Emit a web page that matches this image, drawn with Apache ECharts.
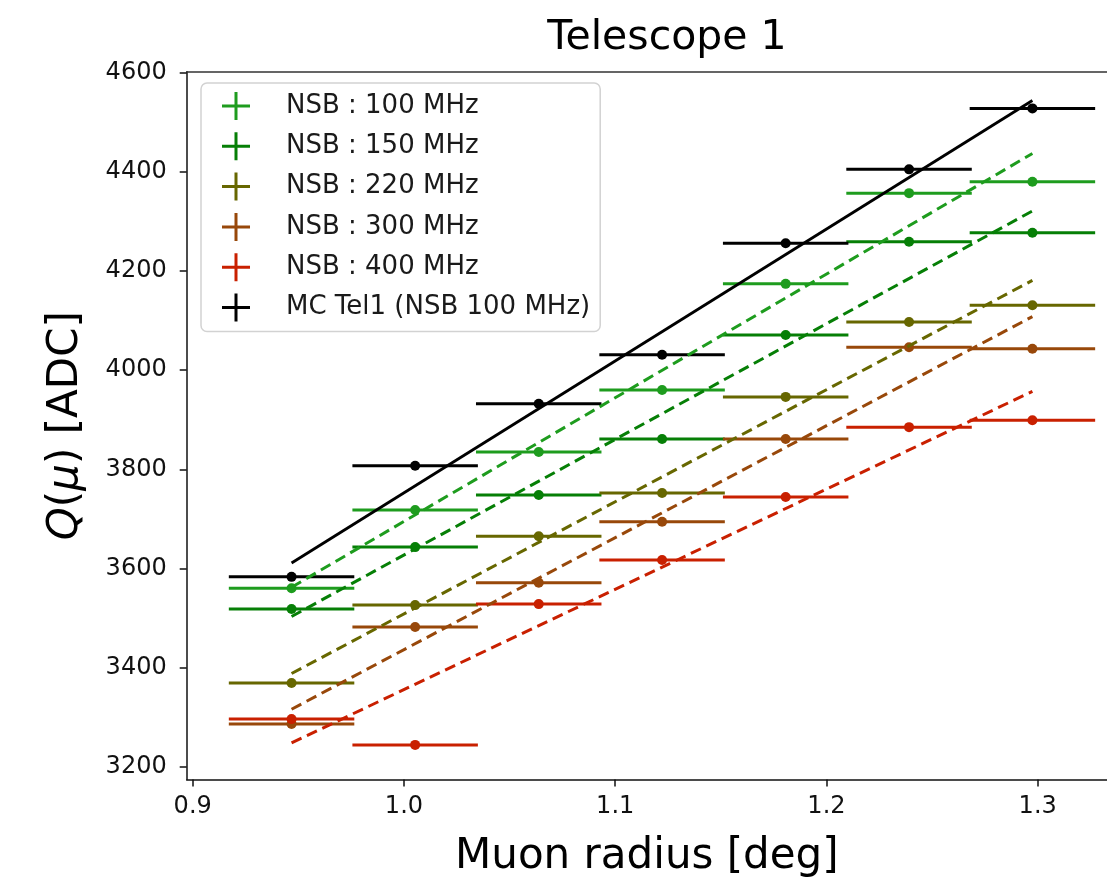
<!DOCTYPE html>
<html>
<head>
<meta charset="utf-8">
<script src="https://cdn.jsdelivr.net/npm/echarts@6/dist/echarts.min.js"></script>
<style>
  html, body { margin: 0; padding: 0; background: #ffffff; }
  #chart { width: 1107px; height: 879px; }
</style>
</head>
<body>
<div id="chart"></div>
<script>
// ---- data ----
const xCenters = [0.9468, 1.0053, 1.0638, 1.1222, 1.1807, 1.2391, 1.2975];
const xHalfWidth = 0.0297;

const seriesNames = ['NSB : 100 MHz', 'NSB : 150 MHz', 'NSB : 220 MHz', 'NSB : 300 MHz', 'NSB : 400 MHz', 'MC Tel1 (NSB 100 MHz)'];
const nsb100 = [3560, 3718, 3835, 3960, 4174, 4357, 4380];
const nsb150 = [3518, 3643, 3748, 3861, 4071, 4259, 4277];
const nsb220 = [3369, 3526, 3665, 3752, 3946, 4097, 4131];
const nsb300 = [3286, 3482, 3571, 3694, 3861, 4046, 4043];
const nsb400 = [3296, 3244, 3528, 3617, 3744, 3885, 3899];
const mcTel1 = [3583, 3807, 3932, 4031, 4256, 4405, 4528];

// linear-fit lines: value at the first and last bin centre
const fitStart = [3562, 3503, 3388, 3316, 3248, 3611];
const fitEnd   = [4437, 4321, 4181, 4108, 3957, 4544];

const xTicks = [0.9, 1.0, 1.1, 1.2, 1.3];
const yTicks = [3200, 3400, 3600, 3800, 4000, 4200, 4400, 4600];

// ---- styling ----
const colors = ['#1e9c1e', '#067f06', '#676700', '#98480a', '#c92000', '#000000'];
const values = [nsb100, nsb150, nsb220, nsb300, nsb400, mcTel1];
const FONT = 'DejaVu Sans';

const plusIcon = 'path://M0,12.5 L28,12.5 L28,15.5 L0,15.5 Z M12.5,0 L15.5,0 L15.5,28 L12.5,28 Z M59,0 L59,0.01 L58.99,0.01 Z';

function errRenderer(color) {
  return function (params, api) {
    const x = api.value(0), y = api.value(1);
    const p1 = api.coord([x - xHalfWidth, y]);
    const p2 = api.coord([x + xHalfWidth, y]);
    const c = api.coord([x, y]);
    return {
      type: 'group',
      children: [
        { type: 'line', shape: { x1: p1[0], y1: p1[1], x2: p2[0], y2: p2[1] },
          style: { stroke: color, lineWidth: 3 } },
        { type: 'circle', shape: { cx: c[0], cy: c[1], r: 5 },
          style: { fill: color } }
      ]
    };
  };
}

const series = [];
values.forEach((vals, i) => {
  const isMC = i === 5;
  series.push({
    name: seriesNames[i] + ' fit',
    type: 'line',
    data: [[xCenters[0], fitStart[i]], [xCenters[xCenters.length - 1], fitEnd[i]]],
    symbol: 'none',
    lineStyle: { color: colors[i], width: isMC ? 2.8 : 3, type: isMC ? 'solid' : [11, 6] },
    z: 3,
    silent: true,
    animation: false
  });
  series.push({
    name: seriesNames[i],
    type: 'custom',
    data: xCenters.map((x, k) => [x, vals[k]]),
    encode: { x: 0, y: 1 },
    itemStyle: { color: colors[i] },
    renderItem: errRenderer(colors[i]),
    z: 2,
    animation: false
  });
});

const chart = echarts.init(document.getElementById('chart'), null, { renderer: 'canvas' });
chart.setOption({
  animation: false,
  backgroundColor: '#ffffff',
  title: {
    text: 'Telescope 1',
    left: 662,
    textAlign: 'center',
    top: 13,
    textStyle: { fontFamily: FONT, fontSize: 41, fontWeight: 'normal', color: '#000' }
  },
  grid: {
    left: 186.7, top: 71.7, right: 0, bottom: 99.4,
    show: false,
    containLabel: false,
    outerBoundsMode: 'none'
  },
  legend: {
    orient: 'vertical',
    left: 201, top: 83,
    padding: [9, 10, 10, 21],
    itemGap: 12.3,
    itemWidth: 59, itemHeight: 28,
    backgroundColor: 'rgba(255,255,255,0.85)',
    borderColor: '#d2d2d2', borderWidth: 1.5, borderRadius: 6,
    textStyle: { fontFamily: FONT, fontSize: 26, color: '#1a1a1a' },
    data: seriesNames.map(n => ({ name: n, icon: plusIcon })),
    selectedMode: false
  },
  xAxis: [{
    type: 'value',
    min: 0.89716, max: 1.33281,
    name: 'Muon radius [deg]',
    nameLocation: 'middle',
    nameGap: 56,
    nameTextStyle: { fontFamily: FONT, fontSize: 42, color: '#000' },
    axisLine: { show: true, onZero: false, lineStyle: { color: '#111', width: 1.5 } },
    axisTick: { show: true, inside: false, length: 7, lineStyle: { color: '#111', width: 1.5 }, customValues: xTicks },
    axisLabel: { fontFamily: FONT, fontSize: 24, color: '#111', margin: 15, customValues: xTicks,
                 formatter: v => v.toFixed(1) },
    splitLine: { show: false }
  }, {
    type: 'value',
    position: 'top',
    min: 0.89716, max: 1.33281,
    axisLine: { show: true, onZero: false, lineStyle: { color: '#333', width: 1.5 } },
    axisTick: { show: false },
    axisLabel: { show: false },
    splitLine: { show: false }
  }],
  yAxis: {
    type: 'value',
    min: 3174, max: 4602,
    name: '{i|Q}({i|μ}) [ADC]',
    nameLocation: 'middle',
    nameRotate: 90,
    nameGap: 100,
    nameTextStyle: { fontFamily: FONT, fontSize: 42, color: '#000',
                     rich: { i: { fontFamily: FONT, fontSize: 42, fontStyle: 'italic', color: '#000' } } },
    axisLine: { show: true, onZero: false, lineStyle: { color: '#111', width: 1.5 } },
    axisTick: { show: true, inside: false, length: 7, lineStyle: { color: '#111', width: 1.5 }, customValues: yTicks },
    axisLabel: { fontFamily: FONT, fontSize: 24, color: '#111', margin: 20, customValues: yTicks,
                 formatter: v => String(v) },
    splitLine: { show: false }
  },
  series: series
});
</script>
</body>
</html>
